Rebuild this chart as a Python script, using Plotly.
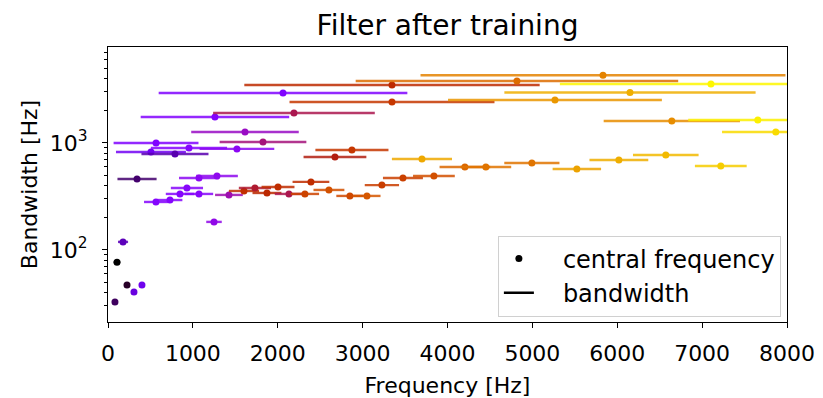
import math
import plotly.graph_objects as go

# central frequency [Hz]
center_freq = [82, 106, 177, 224, 306, 400, 342, 506, 566, 565, 730, 789, 848, 930, 954,
               1072, 1072, 1249, 1260, 1284, 1425, 1519, 1614, 1602, 1731, 1826, 1873, 2003,
               2062, 2132, 2191, 2320, 2391, 2603, 2674, 2850, 2874, 3051, 3227, 3346, 3346,
               3475, 3699, 3840, 4205, 4452, 4818, 4994, 5266, 5524, 5832, 6019, 6150, 6572,
               6643, 7104, 7220, 7656, 7868]
# bandwidth [Hz]
bandwidth = [32.7, 77, 119, 47, 40.5, 47, 461, 824, 1000, 281, 293, 790, 334, 379, 898,
             334, 471, 183, 1750, 492, 327, 880, 1267, 356, 379, 1022, 341, 388,
             2930, 334, 1905, 334, 433, 364, 740, 320, 861, 320, 404, 3480, 2415,
             471, 708, 492, 597, 597, 3800, 650, 2520, 571, 4300, 693, 2960, 773,
             1606, 3560, 610, 1640, 1267]
# colormap position (gnuplot) of each filter
cmap_pos = [0.06, 0.0, 0.13, 0.025, 0.17, 0.19, 0.07, 0.2, 0.25, 0.27, 0.27, 0.12, 0.27, 0.28, 0.27,
            0.28, 0.3, 0.32, 0.26, 0.31, 0.38, 0.3, 0.36, 0.57, 0.47, 0.42, 0.54, 0.56,
            0.25, 0.45, 0.45, 0.64, 0.56, 0.68, 0.49, 0.66, 0.6, 0.7, 0.62, 0.55, 0.6,
            0.63, 0.87, 0.68, 0.74, 0.77, 0.75, 0.77, 0.84, 0.86, 0.8, 0.88, 0.88, 0.9,
            0.82, 0.99, 0.93, 0.98, 0.95]


def gnuplot(x, a=1.0):
    r = min(max(math.sqrt(x), 0), 1)
    g = min(max(x ** 3, 0), 1)
    b = min(max(math.sin(2 * math.pi * x), 0), 1)
    return f"rgba({round(r*255)},{round(g*255)},{round(b*255)},{a})"


fig = go.Figure()
for f, bw, c in zip(center_freq, bandwidth, cmap_pos):
    fig.add_trace(go.Scatter(
        x=[f], y=[bw], mode="markers",
        marker=dict(color=gnuplot(c), size=7),
        error_x=dict(type="data", array=[bw / 2], color=gnuplot(c, 0.85),
                     thickness=2.4, width=0),
        showlegend=False, hoverinfo="x+y"))

fig.add_trace(go.Scatter(x=[None], y=[None], mode="markers",
                         marker=dict(color="black", size=7),
                         name="\u2002\u2002central frequency"))
fig.add_trace(go.Scatter(x=[None], y=[None], mode="lines",
                         line=dict(color="black", width=2.4),
                         name="\u2002\u2002bandwidth"))

minor_vals = [v * m for m in (10, 100, 1000) for v in range(2, 10)]

fig.update_layout(
    width=823, height=398,
    margin=dict(l=108, r=36, t=47, b=76),
    paper_bgcolor="white", plot_bgcolor="white",
    font=dict(family="DejaVu Sans", size=22, color="black"),
    title=dict(text="Filter after training", x=(108 + 679 / 2) / 823, xanchor="center",
               xref="container", yref="container",
               y=1 - 25 / 398, yanchor="middle", font=dict(size=28)),
    legend=dict(x=0.991, y=0.02, xanchor="right", yanchor="bottom",
                bordercolor="#d0d0d0", borderwidth=1, bgcolor="rgba(255,255,255,0.8)",
                font=dict(size=24), itemwidth=30, tracegroupgap=0),
)
fig.update_xaxes(range=[0, 8000], tickvals=list(range(0, 8001, 1000)),
                 showline=True, linecolor="black", linewidth=1.3, mirror=True,
                 ticks="outside", ticklen=5, tickcolor="black", showgrid=False,
                 tickfont=dict(size=22), ticklabelstandoff=6, automargin=False,
                 zeroline=False, title=dict(text="Frequency [Hz]", standoff=14,
                                            font=dict(size=22)))
fig.update_yaxes(type="log", range=[1.327, 3.897],
                 tickvals=[100, 1000], ticktext=["10<sup>2</sup>", "10<sup>3</sup>"],
                 showline=True, linecolor="black", linewidth=1.3, mirror=True,
                 ticks="outside", ticklen=5, tickcolor="black", showgrid=False,
                 tickfont=dict(size=22), ticklabelstandoff=10, automargin=False,
                 zeroline=False, title=dict(text="Bandwidth [Hz]", standoff=5,
                                            font=dict(size=22)),
                 minor=dict(tickvals=minor_vals, ticks="outside", ticklen=3,
                            tickcolor="black", showgrid=False))

# remove the default 8px page margin so the figure fills the window exactly
fig.write_html("out.html", config={"displayModeBar": False},
               post_script="document.body.style.margin='0px';document.body.style.overflow='hidden';")
